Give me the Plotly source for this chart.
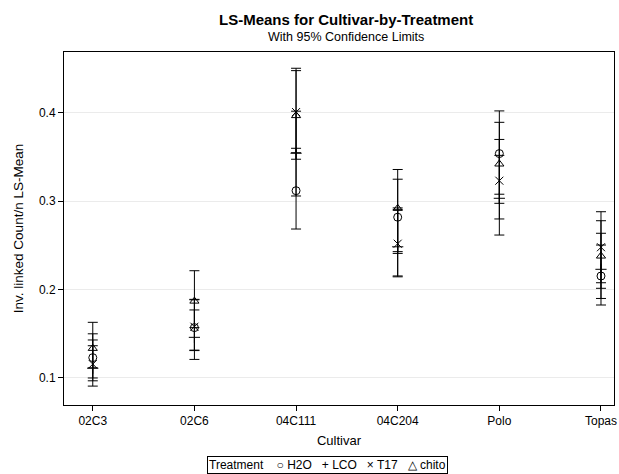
import plotly.graph_objects as go

cultivars = ["02C3", "02C6", "04C111", "04C204", "Polo", "Topas"]
treatments = ["H2O", "LCO", "T17", "chito"]

# LS-means and 95% confidence limits per treatment (one value per cultivar)
h2o_mean = [0.123, 0.157, 0.312, 0.282, 0.354, 0.2154]
h2o_lower = [0.100, 0.131, 0.2686, 0.241, 0.308, 0.1826]
h2o_upper = [0.150, 0.189, 0.360, 0.325, 0.4023, 0.2505]

lco_mean = [0.111, 0.146, 0.3544, 0.2485, 0.3034, 0.223]
lco_lower = [0.0908, 0.121, 0.306, 0.2155, 0.2618, 0.190]
lco_upper = [0.1365, 0.177, 0.402, 0.2905, 0.352, 0.2638]

t17_mean = [0.1157, 0.158, 0.401, 0.252, 0.3233, 0.248]
t17_lower = [0.0968, 0.1315, 0.355, 0.2145, 0.280, 0.2078]
t17_upper = [0.143, 0.1885, 0.4506, 0.2925, 0.370, 0.2882]

chito_mean = [0.1335, 0.187, 0.397, 0.292, 0.3422, 0.238]
chito_lower = [0.1115, 0.157, 0.3476, 0.243, 0.2977, 0.2015]
chito_upper = [0.163, 0.2214, 0.4479, 0.336, 0.3894, 0.278]

series = [
    ("H2O", h2o_mean, h2o_lower, h2o_upper, "circle-open", "\u25CB"),
    ("LCO", lco_mean, lco_lower, lco_upper, "cross-thin-open", "+"),
    ("T17", t17_mean, t17_lower, t17_upper, "x-thin-open", "\u00D7"),
    ("chito", chito_mean, chito_lower, chito_upper, "triangle-up-open", "\u25B3"),
]

FONT = "Liberation Sans, Arial, sans-serif"

fig = go.Figure()
for name, m, lo, up, sym, _ in series:
    fig.add_trace(go.Scatter(
        x=cultivars, y=m, name=name, mode="markers",
        marker=dict(symbol=sym, size=8, color="black",
                    line=dict(color="black", width=1)),
        error_y=dict(type="data", symmetric=False,
                     array=[u - v for u, v in zip(up, m)],
                     arrayminus=[v - l for v, l in zip(m, lo)],
                     color="black", thickness=1, width=5),
    ))

legend_text = "Treatment&nbsp;&nbsp;&nbsp;&nbsp;" + "&nbsp;&nbsp;&nbsp;".join(
    f"{g} {n}" for n, _, _, _, _, g in series)

fig.update_layout(
    width=619, height=474,
    margin=dict(l=64, r=5, t=52, b=69),
    paper_bgcolor="white", plot_bgcolor="white",
    font=dict(family=FONT, size=12, color="black"),
    showlegend=False,
    annotations=[
        dict(text="<b>LS-Means for Cultivar-by-Treatment</b>", xref="paper", yref="paper",
             x=0.5127, y=1.0907, xanchor="center", yanchor="middle", showarrow=False,
             font=dict(family=FONT, size=15, color="black")),
        dict(text="With 95% Confidence Limits", xref="paper", yref="paper",
             x=0.5127, y=1.0425, xanchor="center", yanchor="middle", showarrow=False,
             font=dict(family=FONT, size=12.5, color="black")),
        dict(text=legend_text, xref="paper", yref="paper",
             x=0.479, y=-0.1686, xanchor="center", yanchor="middle",
             showarrow=False, font=dict(family=FONT, size=12, color="black"),
             bordercolor="black", borderwidth=1, borderpad=1, bgcolor="white"),
    ],
)

fig.update_xaxes(
    type="category", range=[-0.283, 5.128], automargin=False,
    showline=True, linecolor="black", linewidth=1, mirror=True,
    ticks="outside", ticklen=5, tickcolor="black",
    showgrid=False, zeroline=False,
    tickfont=dict(family=FONT, size=12),
    title=dict(text="Cultivar", font=dict(family=FONT, size=13), standoff=8),
)
fig.update_yaxes(
    range=[0.0694, 0.469], tickvals=[0.1, 0.2, 0.3, 0.4], automargin=False,
    ticktext=["0.1", "0.2", "0.3", "0.4"],
    showline=True, linecolor="black", linewidth=1, mirror=True,
    ticks="outside", ticklen=5, tickcolor="black",
    showgrid=True, gridcolor="#ebebeb", gridwidth=1, zeroline=False,
    tickfont=dict(family=FONT, size=12),
    title=dict(text="Inv. linked Count/n LS-Mean", font=dict(family=FONT, size=13.5), standoff=12),
)

fig.write_html(
    "out.html",
    config={"displayModeBar": False},
    post_script="document.body.style.margin='0px';document.documentElement.style.overflow='hidden';",
)
